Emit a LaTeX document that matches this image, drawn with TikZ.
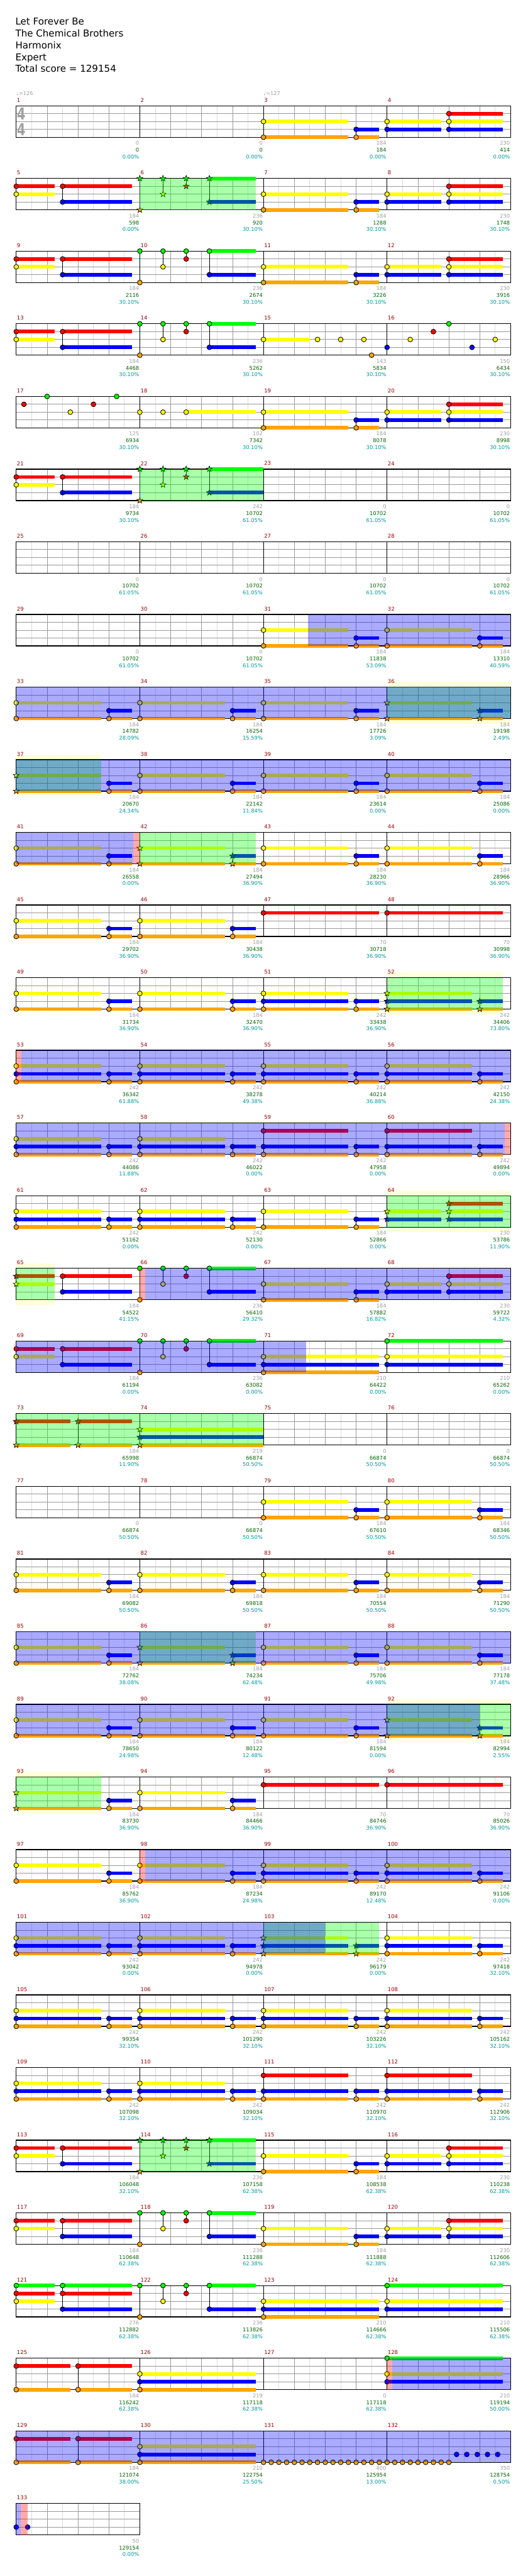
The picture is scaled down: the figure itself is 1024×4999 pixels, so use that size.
\documentclass[tikz,border=0pt]{standalone}
\usepackage{fontspec}
\setmainfont{DejaVu Sans}
\definecolor{lc0}{RGB}{0,255,0}
\definecolor{lc1}{RGB}{255,0,0}
\definecolor{lc2}{RGB}{255,255,0}
\definecolor{lc3}{RGB}{0,0,255}
\definecolor{lc4}{RGB}{255,165,0}
\definecolor{ovg}{RGB}{0,255,0}
\definecolor{ovb}{RGB}{0,0,255}
\definecolor{ovr}{RGB}{255,0,0}
\definecolor{mnum}{RGB}{153,0,0}
\definecolor{lgray}{RGB}{160,160,160}
\definecolor{lgreen}{RGB}{0,100,0}
\definecolor{lteal}{RGB}{0,153,153}
\definecolor{gridlt}{RGB}{221,221,221}
\definecolor{gridmd}{RGB}{153,153,153}
\definecolor{bandy}{RGB}{255,255,218}
\definecolor{tsig}{RGB}{160,160,160}
\tikzset{
  labg/.style={anchor=east,inner sep=0pt,font=\fontsize{5.1}{6}\selectfont,text=lgray},
  labs/.style={anchor=east,inner sep=0pt,font=\fontsize{5.1}{6}\selectfont,text=lgreen},
  labp/.style={anchor=east,inner sep=0pt,font=\fontsize{5.1}{6}\selectfont,text=lteal},
  mn/.style={anchor=west,inner sep=0pt,font=\fontsize{5.2}{6}\selectfont,text=mnum},
  hdr/.style={anchor=base west,inner sep=0pt,font=\fontsize{9.2}{11}\selectfont},
  tempo/.style={anchor=west,inner sep=0pt,font=\fontsize{5}{6}\selectfont,text=tsig},
  tsg/.style={inner sep=0pt,font=\fontsize{16}{16}\selectfont\bfseries,text=tsig,xscale=0.75},
  gl/.style={line width=0.5pt},
}
\newcommand\SetRow[1]{\pgfmathsetmacro\RT{205.3+141*#1}}
\newcommand\Band[2]{\fill[bandy] ({31.5+60*#1},\RT-10) rectangle ({31.5+60*#2},\RT+71);}
\newcommand\Grid[2]{%
  \fill[white] (31.5,\RT) rectangle ({31.5+240*#2},\RT+61);
  \pgfmathtruncatemacro\NE{8*#2-1}%
  \foreach \ii in {1,...,\NE} \draw[gl,gridlt] ({31.5+30*\ii},\RT) -- ++(0,61);
  \pgfmathtruncatemacro\NB{4*#2-1}%
  \foreach \ii in {1,...,\NB} \draw[gl,gridmd] ({31.5+60*\ii},\RT) -- ++(0,61);
  \foreach \ii in {1,2,3} \draw[gl,gridmd] (31.5,{\RT+15.25*\ii}) -- ++({240*#2},0);
  \ifnum#2>1 \pgfmathtruncatemacro\NM{#2-1}%
    \foreach \ii in {1,...,\NM} \draw[gl,black] ({31.5+240*\ii},\RT) -- ++(0,61);\fi
  \draw[black,line width=0.8pt] (31.5,\RT) rectangle ({31.5+240*#2},\RT+61);
  \foreach \ii in {1,...,#2}{\pgfmathtruncatemacro\mm{#1+\ii-1}%
    \node[mn] at ({32.5+240*(\ii-1)},\RT-11) {\mm};}%
}
\newcommand\Sus[3]{\fill[fill=lc#1] ({31.5+60*#2},{\RT+15.25*#1-3.5}) rectangle ({31.5+60*#3},{\RT+15.25*#1+3.5});}
\newcommand\Hd[2]{\filldraw[fill=lc#1,draw=black,line width=0.5pt] ({31.5+60*#2},{\RT+15.25*#1}) circle[radius=4.7];}
\newcommand\StarPath{(0,-6) -- (1.47,-2.02) -- (5.71,-1.85) -- (2.38,0.77) -- (3.53,4.85) -- (0,2.5) -- (-3.53,4.85) -- (-2.38,0.77) -- (-5.71,-1.85) -- (-1.47,-2.02) -- cycle}
\newcommand\Sh[2]{\filldraw[fill=lc#1,draw=black,line width=0.4pt,shift={({31.5+60*#2},{\RT+15.25*#1})}] \StarPath;}
\newcommand\Ch[4]{%
  \ifdim#3pt>#2pt \foreach \La in {#4}{\Sus{\La}{#2}{#3}}\fi
  \gdef\lmin{9}\gdef\lmax{-1}%
  \foreach \La in {#4}{\ifnum\La<\lmin\xdef\lmin{\La}\fi\ifnum\La>\lmax\xdef\lmax{\La}\fi}%
  \ifnum\lmin<\lmax \draw[gl,black] ({31.5+60*#2},{\RT+15.25*\lmin}) -- ({31.5+60*#2},{\RT+15.25*\lmax});\fi
  \ifnum#1=1 \foreach \La in {#4}{\Sh{\La}{#2}}\else \foreach \La in {#4}{\Hd{\La}{#2}}\fi
}
\newcommand\YOm[4]{%
  \pgfmathsetmacro\yoA{#3}\pgfmathsetmacro\yoB{#3+2.75}%
  \pgfmathsetmacro\yoC{#3+3}\pgfmathsetmacro\yoD{#3+3.75}%
  \Ch{#1}{\yoA}{\yoB}{#4}\Ch{#2}{\yoC}{\yoD}{3,4}}
\newcommand\PA[1]{\Ch{0}{0}{1.25}{1,2}\Ch{0}{1.5}{3.75}{1,3}\Ch{#1}{4}{4}{0,4}\Ch{#1}{4.75}{4.75}{0,2}\Ch{#1}{5.5}{5.5}{0,1}\Ch{#1}{6.25}{7.75}{0,3}}
\newcommand\PB{\Ch{0}{8}{10.75}{2,4}\Ch{0}{11}{11.75}{3,4}\Ch{0}{12}{13.75}{2,3}\Ch{0}{14}{15.75}{1,2,3}}
\newcommand\Ov[3]{\fill[fill=#1,fill opacity=0.3333] ({31.5+60*#2},\RT) rectangle ({31.5+60*#3},\RT+61);}
\newcommand\Labs[1]{\foreach \gv/\sv/\pv [count=\ci] in {#1}{%
  \node[labg] at ({30.5+240*\ci},\RT+72.7) {\gv};
  \node[labs] at ({30.5+240*\ci},\RT+86) {\sv};
  \node[labp] at ({30.5+240*\ci},\RT+99) {\pv};}}
\begin{document}
\begin{tikzpicture}[x=0.5pt,y=-0.5pt]
\fill[white] (0,0) rectangle (1024,4999);
\useasboundingbox (0,0) rectangle (1024,4999);
\node[hdr] (title) at (29.6,48.3) {Let Forever Be};
\node[hdr] (artist) at (29.6,71.3) {The Chemical Brothers};
\node[hdr] (author) at (29.6,94.3) {Harmonix};
\node[hdr] (diff) at (29.6,117.3) {Expert};
\node[hdr] (total) at (29.6,140.3) {Total score = 129154};
% row 0
\SetRow{0}\Grid{1}{4}
\node[tsg] (ts1) at (41,\RT+15.5) {4};
\node[tsg] (ts2) at (41,\RT+45.5) {4};
\node[tempo] (tp1) at (31.5,\RT-24.5) {♩=126};
\node[tempo] (tp2) at (511.5,\RT-24.5) {♩=127};
\PB
\Labs{0/0/0.00\%,0/0/0.00\%,184/184/0.00\%,230/414/0.00\%}
% row 1
\SetRow{1}\Grid{5}{4}
\PA{1}\PB
\Ov{ovg}{4}{7.75}
\Labs{184/598/0.00\%,236/920/30.10\%,184/1288/30.10\%,230/1748/30.10\%}
% row 2
\SetRow{2}\Grid{9}{4}
\PA{0}\PB
\Labs{184/2116/30.10\%,236/2674/30.10\%,184/3226/30.10\%,230/3916/30.10\%}
% row 3
\SetRow{3}\Grid{13}{4}
\PA{0}
\Ch{0}{8}{9.5}{2}\Ch{0}{9.75}{9.75}{2}\Ch{0}{10.5}{10.5}{2}\Ch{0}{11.25}{11.25}{2}
\Ch{0}{11.5}{11.5}{4}\Ch{0}{12}{12}{3}\Ch{0}{12.75}{12.75}{2}\Ch{0}{13.5}{13.5}{1}
\Ch{0}{14}{14}{0}\Ch{0}{14.75}{14.75}{3}\Ch{0}{15.5}{15.5}{2}
\Labs{184/4468/30.10\%,236/5262/30.10\%,143/5834/30.10\%,150/6434/30.10\%}
% row 4
\SetRow{4}\Grid{17}{4}
\Ch{0}{0.25}{0.25}{1}\Ch{0}{1}{1}{0}\Ch{0}{1.75}{1.75}{2}\Ch{0}{2.5}{2.5}{1}
\Ch{0}{3.25}{3.25}{0}\Ch{0}{4}{4}{2}\Ch{0}{4.75}{4.75}{2}\Ch{0}{5.5}{7.75}{2}
\PB
\Labs{125/6934/30.10\%,102/7342/30.10\%,184/8078/30.10\%,230/8998/30.10\%}
% row 5
\SetRow{5}\Grid{21}{4}
\Ch{0}{0}{1.25}{1,2}\Ch{0}{1.5}{3.75}{1,3}\Ch{1}{4}{4}{0,4}\Ch{1}{4.75}{4.75}{0,2}\Ch{1}{5.5}{5.5}{0,1}\Ch{1}{6.25}{8}{0,3}
\Ov{ovg}{4}{8}
\Labs{184/9734/30.10\%,242/10702/61.05\%,0/10702/61.05\%,0/10702/61.05\%}
% row 6
\SetRow{6}\Grid{25}{4}
\Labs{0/10702/61.05\%,0/10702/61.05\%,0/10702/61.05\%,0/10702/61.05\%}
% row 7
\SetRow{7}\Grid{29}{4}
\YOm{0}{0}{8}{2,4}\YOm{0}{0}{12}{2,4}
\Ov{ovb}{9.45}{16}
\Labs{0/10702/61.05\%,0/10702/61.05\%,184/11838/53.09\%,184/13310/40.59\%}
% row 8
\SetRow{8}\Band{12}{16}\Grid{33}{4}
\YOm{0}{0}{0}{2,4}\YOm{0}{0}{4}{2,4}\YOm{0}{0}{8}{2,4}\YOm{1}{1}{12}{2,4}
\Ov{ovg}{12}{16}\Ov{ovb}{0}{16}
\Labs{184/14782/28.09\%,184/16254/15.59\%,184/17726/3.09\%,184/19198/2.49\%}
% row 9
\SetRow{9}\Band{0}{2.75}\Grid{37}{4}
\YOm{1}{0}{0}{2,4}\YOm{0}{0}{4}{2,4}\YOm{0}{0}{8}{2,4}\YOm{0}{0}{12}{2,4}
\Ov{ovg}{0}{2.75}\Ov{ovb}{0}{16}
\Labs{184/20670/24.34\%,184/22142/11.84\%,184/23614/0.00\%,184/25086/0.00\%}
% row 10
\SetRow{10}\Grid{41}{4}
\YOm{0}{0}{0}{2,4}\YOm{1}{1}{4}{2,4}\YOm{0}{0}{8}{2,4}\YOm{0}{0}{12}{2,4}
\Ov{ovg}{4}{7.75}\Ov{ovb}{0}{3.78}\Ov{ovr}{3.78}{4}
\Labs{184/26558/0.00\%,184/27494/36.90\%,184/28230/36.90\%,184/28966/36.90\%}
% row 11
\SetRow{11}\Grid{45}{4}
\YOm{0}{0}{0}{2,4}\YOm{0}{0}{4}{2,4}\Ch{0}{8}{11.75}{1}\Ch{0}{12}{15.75}{1}
\Labs{184/29702/36.90\%,184/30438/36.90\%,70/30718/36.90\%,70/30998/36.90\%}
% row 12
\SetRow{12}\Band{12}{15.75}\Grid{49}{4}
\YOm{0}{0}{0}{2,4}\YOm{0}{0}{4}{2,4}\YOm{0}{0}{8}{2,3,4}\YOm{1}{1}{12}{2,3,4}
\Ov{ovg}{12}{15.75}
\Labs{184/31734/36.90\%,184/32470/36.90\%,242/33438/36.90\%,242/34406/73.80\%}
% row 13
\SetRow{13}\Grid{53}{4}
\YOm{0}{0}{0}{2,3,4}\YOm{0}{0}{4}{2,3,4}\YOm{0}{0}{8}{2,3,4}\YOm{0}{0}{12}{2,3,4}
\Ov{ovb}{0.17}{16}\Ov{ovr}{0}{0.17}
\Labs{242/36342/61.88\%,242/38278/49.38\%,242/40214/36.88\%,242/42150/24.38\%}
% row 14
\SetRow{14}\Grid{57}{4}
\YOm{0}{0}{0}{2,3,4}\YOm{0}{0}{4}{2,3,4}\YOm{0}{0}{8}{1,3,4}\YOm{0}{0}{12}{1,3,4}
\Ov{ovb}{0}{15.8}\Ov{ovr}{15.8}{16}
\Labs{242/44086/11.88\%,242/46022/0.00\%,242/47958/0.00\%,242/49894/0.00\%}
% row 15
\SetRow{15}\Band{12}{16}\Grid{61}{4}
\YOm{0}{0}{0}{2,3,4}\YOm{0}{0}{4}{2,3,4}\YOm{0}{0}{8}{2,4}\Ch{1}{12}{13.75}{2,3}\Ch{1}{14}{15.75}{1,2,3}
\Ov{ovg}{12}{16}
\Labs{242/51162/0.00\%,242/52130/0.00\%,184/52866/0.00\%,230/53786/11.90\%}
% row 16
\SetRow{16}\Band{0}{1.25}\Grid{65}{4}
\Ch{1}{0}{1.25}{1,2}\Ch{0}{1.5}{3.75}{1,3}\Ch{0}{4}{4}{0,4}\Ch{0}{4.75}{4.75}{0,2}\Ch{0}{5.5}{5.5}{0,1}\Ch{0}{6.25}{7.75}{0,3}\PB
\Ov{ovg}{0}{1.25}\Ov{ovr}{4}{4.17}\Ov{ovb}{4.17}{16}
\Labs{184/54522/41.15\%,236/56410/29.32\%,184/57882/16.82\%,230/59722/4.32\%}
% row 17
\SetRow{17}\Grid{69}{4}
\PA{0}\Ch{0}{8}{11.75}{2,3,4}\Ch{0}{12}{15.75}{0,2,3}
\Ov{ovb}{0}{9.38}
\Labs{184/61194/0.00\%,236/63082/0.00\%,210/64422/0.00\%,210/65262/0.00\%}
% row 18
\SetRow{18}\Grid{73}{4}
\Ch{1}{0}{1.75}{1,4}\Ch{1}{2}{3.75}{1,4}\Ch{1}{4}{8}{2,3,4}
\Ov{ovg}{0}{8}
\Labs{184/65998/11.90\%,219/66874/50.50\%,0/66874/50.50\%,0/66874/50.50\%}
% row 19
\SetRow{19}\Grid{77}{4}
\YOm{0}{0}{8}{2,4}\YOm{0}{0}{12}{2,4}
\Labs{0/66874/50.50\%,0/66874/50.50\%,184/67610/50.50\%,184/68346/50.50\%}
% row 20
\SetRow{20}\Grid{81}{4}
\YOm{0}{0}{0}{2,4}\YOm{0}{0}{4}{2,4}\YOm{0}{0}{8}{2,4}\YOm{0}{0}{12}{2,4}
\Labs{184/69082/50.50\%,184/69818/50.50\%,184/70554/50.50\%,184/71290/50.50\%}
% row 21
\SetRow{21}\Grid{85}{4}
\YOm{0}{0}{0}{2,4}\YOm{1}{1}{4}{2,4}\YOm{0}{0}{8}{2,4}\YOm{0}{0}{12}{2,4}
\Ov{ovg}{4}{7.75}\Ov{ovb}{0}{16}
\Labs{184/72762/38.08\%,184/74234/62.48\%,184/75706/49.98\%,184/77178/37.48\%}
% row 22
\SetRow{22}\Band{12}{16}\Grid{89}{4}
\YOm{0}{0}{0}{2,4}\YOm{0}{0}{4}{2,4}\YOm{0}{0}{8}{2,4}\YOm{1}{1}{12}{2,4}
\Ov{ovg}{12}{16}\Ov{ovb}{0}{15}
\Labs{184/78650/24.98\%,184/80122/12.48\%,184/81594/0.00\%,184/82994/2.55\%}
% row 23
\SetRow{23}\Band{0}{2.75}\Grid{93}{4}
\YOm{1}{0}{0}{2,4}\YOm{0}{0}{4}{2,4}\Ch{0}{8}{11.75}{1}\Ch{0}{12}{15.75}{1}
\Ov{ovg}{0}{2.75}
\Labs{184/83730/36.90\%,184/84466/36.90\%,70/84746/36.90\%,70/85026/36.90\%}
% row 24
\SetRow{24}\Grid{97}{4}
\YOm{0}{0}{0}{2,4}\YOm{0}{0}{4}{2,4}\YOm{0}{0}{8}{2,3,4}\YOm{0}{0}{12}{2,3,4}
\Ov{ovr}{4}{4.17}\Ov{ovb}{4.17}{16}
\Labs{184/85762/36.90\%,184/87234/24.98\%,242/89170/12.48\%,242/91106/0.00\%}
% row 25
\SetRow{25}\Grid{101}{4}
\YOm{0}{0}{0}{2,3,4}\YOm{0}{0}{4}{2,3,4}\YOm{1}{1}{8}{2,3,4}\YOm{0}{0}{12}{2,3,4}
\Ov{ovg}{8}{11.75}\Ov{ovb}{0}{10}
\Labs{242/93042/0.00\%,242/94978/0.00\%,242/96179/0.00\%,242/97418/32.10\%}
% row 26
\SetRow{26}\Grid{105}{4}
\YOm{0}{0}{0}{2,3,4}\YOm{0}{0}{4}{2,3,4}\YOm{0}{0}{8}{2,3,4}\YOm{0}{0}{12}{2,3,4}
\Labs{242/99354/32.10\%,242/101290/32.10\%,242/103226/32.10\%,242/105162/32.10\%}
% row 27
\SetRow{27}\Grid{109}{4}
\YOm{0}{0}{0}{2,3,4}\YOm{0}{0}{4}{2,3,4}\YOm{0}{0}{8}{1,3,4}\YOm{0}{0}{12}{1,3,4}
\Labs{242/107098/32.10\%,242/109034/32.10\%,242/110970/32.10\%,242/112906/32.10\%}
% row 28
\SetRow{28}\Grid{113}{4}
\PA{1}\PB
\Ov{ovg}{4}{7.75}
\Labs{184/106048/32.10\%,236/107158/62.38\%,184/108538/62.38\%,230/110238/62.38\%}
% row 29
\SetRow{29}\Grid{117}{4}
\PA{0}\PB
\Labs{184/110648/62.38\%,236/111288/62.38\%,184/111888/62.38\%,230/112606/62.38\%}
% row 30
\SetRow{30}\Grid{121}{4}
\Ch{0}{0}{1.25}{0,1,2}\Ch{0}{1.5}{3.75}{0,1,3}\Ch{0}{4}{4}{0,4}\Ch{0}{4.75}{4.75}{0,2}\Ch{0}{5.5}{5.5}{0,1}\Ch{0}{6.25}{7.75}{0,3}
\Ch{0}{8}{11.75}{2,3,4}\Ch{0}{12}{15.75}{0,2,3}
\Labs{276/112882/62.38\%,236/113826/62.38\%,210/114666/62.38\%,210/115506/62.38\%}
% row 31
\SetRow{31}\Grid{125}{4}
\Ch{0}{0}{1.75}{1,4}\Ch{0}{2}{3.75}{1,4}\Ch{0}{4}{7.75}{2,3,4}\Ch{0}{12}{15.75}{0,2,3}
\Ov{ovr}{12}{12.17}\Ov{ovb}{12.17}{16}
\Labs{184/116242/62.38\%,219/117118/62.38\%,0/117118/62.38\%,210/119194/50.00\%}
% row 32
\SetRow{32}\Grid{129}{4}
\Ch{0}{0}{1.75}{1,4}\Ch{0}{2}{3.75}{1,4}\Ch{0}{4}{7.75}{2,3,4}
\foreach \kk in {0,...,24}{\pgfmathsetmacro\bq{8+0.25*\kk}\Ch{0}{\bq}{\bq}{4}}
\foreach \bq in {14.25,14.58,14.92,15.25,15.58}{\Ch{0}{\bq}{\bq}{3}}
\Ov{ovb}{0}{16}
\Labs{184/121074/38.00\%,210/122754/25.50\%,400/125954/13.00\%,350/128754/0.50\%}
% row 33
\SetRow{33}\Grid{133}{1}
\Ch{0}{0}{0}{3}\Ch{0}{0.37}{0.37}{3}
\Ov{ovb}{0}{0.15}\Ov{ovr}{0.15}{0.37}
\Labs{50/129154/0.00\%}
\end{tikzpicture}
\end{document}
